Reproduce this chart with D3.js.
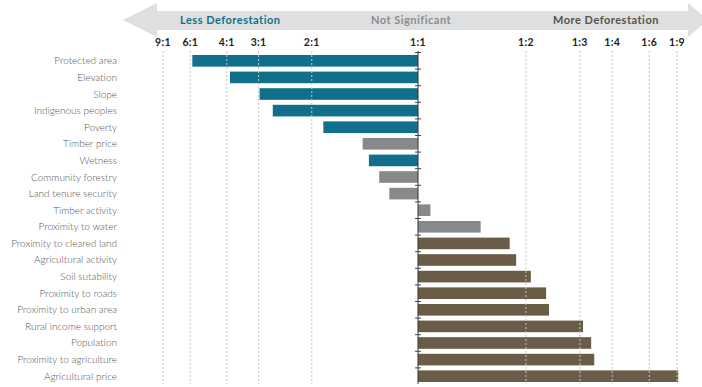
<!DOCTYPE html>
<html lang="en">
<head>
    <meta charset="UTF-8">
    <title>Deforestation odds</title>
    <script src="https://d3js.org/d3.v7.min.js"></script>
    <style>
        body { margin: 0; background: #fff; }
        svg { display: block; font-family: Lato, "DejaVu Sans", sans-serif; }
        .label { font-size: 10px; fill: #555; font-weight: 300; }
        .tick-label { font-size: 10.5px; font-weight: 700; fill: #222; letter-spacing: 0.3px; }
        .head { font-size: 11px; font-weight: 700; letter-spacing: 0.5px; }
    </style>
</head>
<body>
<div id="chart"></div>
<script>
    // variables, top to bottom
    const categories = [
        "Protected area", "Elevation", "Slope", "Indigenous peoples", "Poverty",
        "Timber price", "Wetness", "Community forestry", "Land tenure security",
        "Timber activity", "Proximity to water", "Proximity to cleared land",
        "Agricultural activity", "Soil sutability", "Proximity to roads",
        "Proximity to urban area", "Rural income support", "Population",
        "Proximity to agriculture", "Agricultural price"
    ];
    // odds of deforestation vs. 1:1 (a value of 2 means 1:2, 0.5 means 2:1)
    const odds = [
        0.171, 0.258, 0.336, 0.374, 0.542,
        0.704, 0.733, 0.783, 0.835,
        1.08, 1.48, 1.79,
        1.87, 2.07, 2.31,
        2.36, 3.08, 3.30,
        3.39, 9.19
    ];
    // l = less deforestation, n = not significant, m = more deforestation
    const effect = [
        "l", "l", "l", "l", "l",
        "n", "l", "n", "n",
        "n", "n", "m",
        "m", "m", "m",
        "m", "m", "m",
        "m", "m"
    ];
    const tickLabels = ["9:1", "6:1", "4:1", "3:1", "2:1", "1:1", "1:2", "1:3", "1:4", "1:6", "1:9"];
    const tickOdds = [1 / 9, 1 / 6, 1 / 4, 1 / 3, 1 / 2, 1, 2, 3, 4, 6, 9];

    const width = 702, height = 387;
    const colors = { l: "#10708c", n: "#88898b", m: "#6a5c46" };

    const prob = v => v / (1 + v);
    const x = d3.scaleLinear().domain([0.1, 0.5, 0.9]).range([163, 418, 677]);
    const y = d3.scaleBand().domain(categories).range([55, 382]).paddingInner(0.3).paddingOuter(0);

    const svg = d3.select("#chart").append("svg")
        .attr("width", width).attr("height", height);

    // header arrow
    const arrow = d3.path();
    arrow.moveTo(123, 20);
    arrow.lineTo(157, 3);
    arrow.lineTo(157, 11);
    arrow.lineTo(688, 11);
    arrow.lineTo(688, 3);
    arrow.lineTo(708, 20);
    arrow.lineTo(688, 37);
    arrow.lineTo(688, 30);
    arrow.lineTo(157, 30);
    arrow.lineTo(157, 37);
    arrow.closePath();
    svg.append("path").attr("d", arrow.toString()).attr("fill", "#dedfe0");

    svg.append("text").attr("class", "head").attr("x", 180).attr("y", 24)
        .attr("fill", "#10708c").text("Less Deforestation");
    svg.append("text").attr("class", "head").attr("x", 411).attr("y", 24)
        .attr("text-anchor", "middle").attr("fill", "#8c8c8c").text("Not Significant");
    svg.append("text").attr("class", "head").attr("x", 606).attr("y", 24)
        .attr("text-anchor", "middle").attr("fill", "#5a5248").text("More Deforestation");

    // tick labels
    svg.selectAll(".tick-label").data(tickOdds).join("text")
        .attr("class", "tick-label")
        .attr("x", d => x(prob(d)))
        .attr("y", 46)
        .attr("text-anchor", "middle")
        .text((d, i) => tickLabels[i]);

    // bars
    svg.selectAll(".bar").data(categories).join("rect")
        .attr("class", "bar")
        .attr("x", (d, i) => Math.min(x(prob(odds[i])), x(0.5)))
        .attr("width", (d, i) => Math.abs(x(prob(odds[i])) - x(0.5)))
        .attr("y", d => y(d))
        .attr("height", y.bandwidth())
        .attr("fill", (d, i) => colors[effect[i]]);

    // dotted grid lines, drawn over the bars
    svg.selectAll(".grid").data(tickOdds.filter(d => d !== 1)).join("line")
        .attr("class", "grid")
        .attr("x1", d => x(prob(d))).attr("x2", d => x(prob(d)))
        .attr("y1", 51).attr("y2", 384)
        .attr("stroke", "#c4c4c4")
        .attr("stroke-width", 1)
        .attr("stroke-dasharray", "2,2");

    // 1:1 axis with small ticks between rows
    const x0 = x(0.5);
    svg.append("line")
        .attr("x1", x0).attr("x2", x0).attr("y1", 51).attr("y2", 384)
        .attr("stroke", "#333").attr("stroke-width", 1);
    const step = y.step();
    svg.selectAll(".axis-tick").data(categories).join("line")
        .attr("class", "axis-tick")
        .attr("x1", x0 - 3).attr("x2", x0 + 3)
        .attr("y1", d => y(d) - step * 0.15).attr("y2", d => y(d) - step * 0.15)
        .attr("stroke", "#444").attr("stroke-width", 1);

    // category labels
    svg.selectAll(".label").data(categories).join("text")
        .attr("class", "label")
        .attr("x", 117)
        .attr("y", d => y(d) + y.bandwidth() / 2)
        .attr("dy", "0.35em")
        .attr("text-anchor", "end")
        .text(d => d);
</script>
</body>
</html>
